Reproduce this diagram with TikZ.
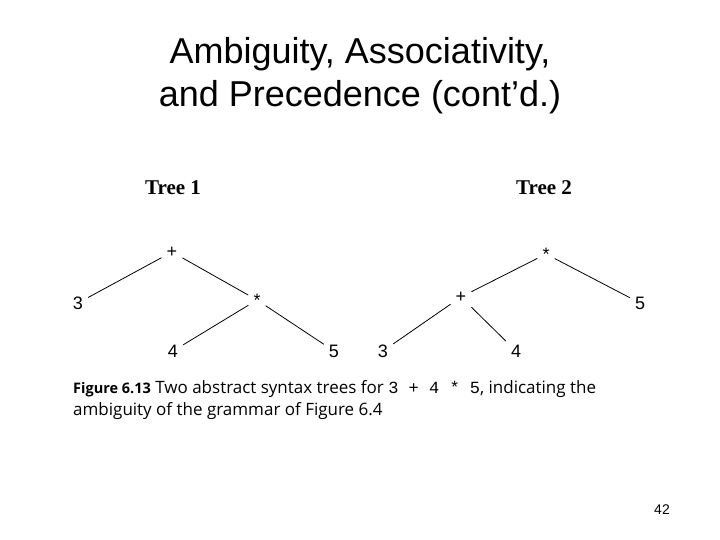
\documentclass[tikz,border=0pt]{standalone}
\usepackage{fontspec}
\setmainfont{Liberation Sans}
\newfontfamily\myserif{Liberation Serif}
\newfontfamily\mycap{Open Sans}
\newfontfamily\mymono{Liberation Mono}
\begin{document}
\begin{tikzpicture}[x=1pt,y=-1pt,
  lf/.style={font=\fontsize{18}{18}\selectfont, inner sep=5pt},
  ed/.style={line width=0.8pt},
  tl/.style={font=\myserif\bfseries\fontsize{21}{21}\selectfont}]
\useasboundingbox (0,0) rectangle (720,540);
\node[font=\fontsize{36}{43}\selectfont, align=center] (title) at (360,76) {Ambiguity, Associativity,\\and Precedence (cont’d.)};
\node[tl] (t1) at (173,188) {Tree 1};
\node[tl] (t2) at (544,188) {Tree 2};
\node[lf] (p1) at (172,252) {+};
\node[lf] (a3) at (78,303) {3};
\node[lf] (s1) at (257,300) {*};
\node[lf] (a4) at (173,351) {4};
\node[lf] (a5) at (334,351) {5};
\draw[ed] (p1) -- (a3); \draw[ed] (p1) -- (s1);
\draw[ed] (s1) -- (a4); \draw[ed] (s1) -- (a5);
\node[lf] (s2) at (546,254) {*};
\node[lf] (p2) at (461,297) {+};
\node[lf] (b5) at (640,303) {5};
\node[lf] (b3) at (383,351) {3};
\node[lf] (b4) at (516,351) {4};
\draw[ed] (s2) -- (p2); \draw[ed] (s2) -- (b5);
\draw[ed] (p2) -- (b3); \draw[ed] (p2) -- (b4);
\node[anchor=west, font=\mycap\fontsize{17}{22}\selectfont, align=left, inner sep=0] (cap) at (73,400)
 {{\bfseries\fontsize{14.5}{22}\selectfont Figure 6.13} Two abstract syntax trees for {\mymono 3 + 4 * 5}, indicating the\\ambiguity of the grammar of Figure 6.4};
\node[font=\fontsize{14}{14}\selectfont] (pg) at (662,510) {42};
\end{tikzpicture}
\end{document}
